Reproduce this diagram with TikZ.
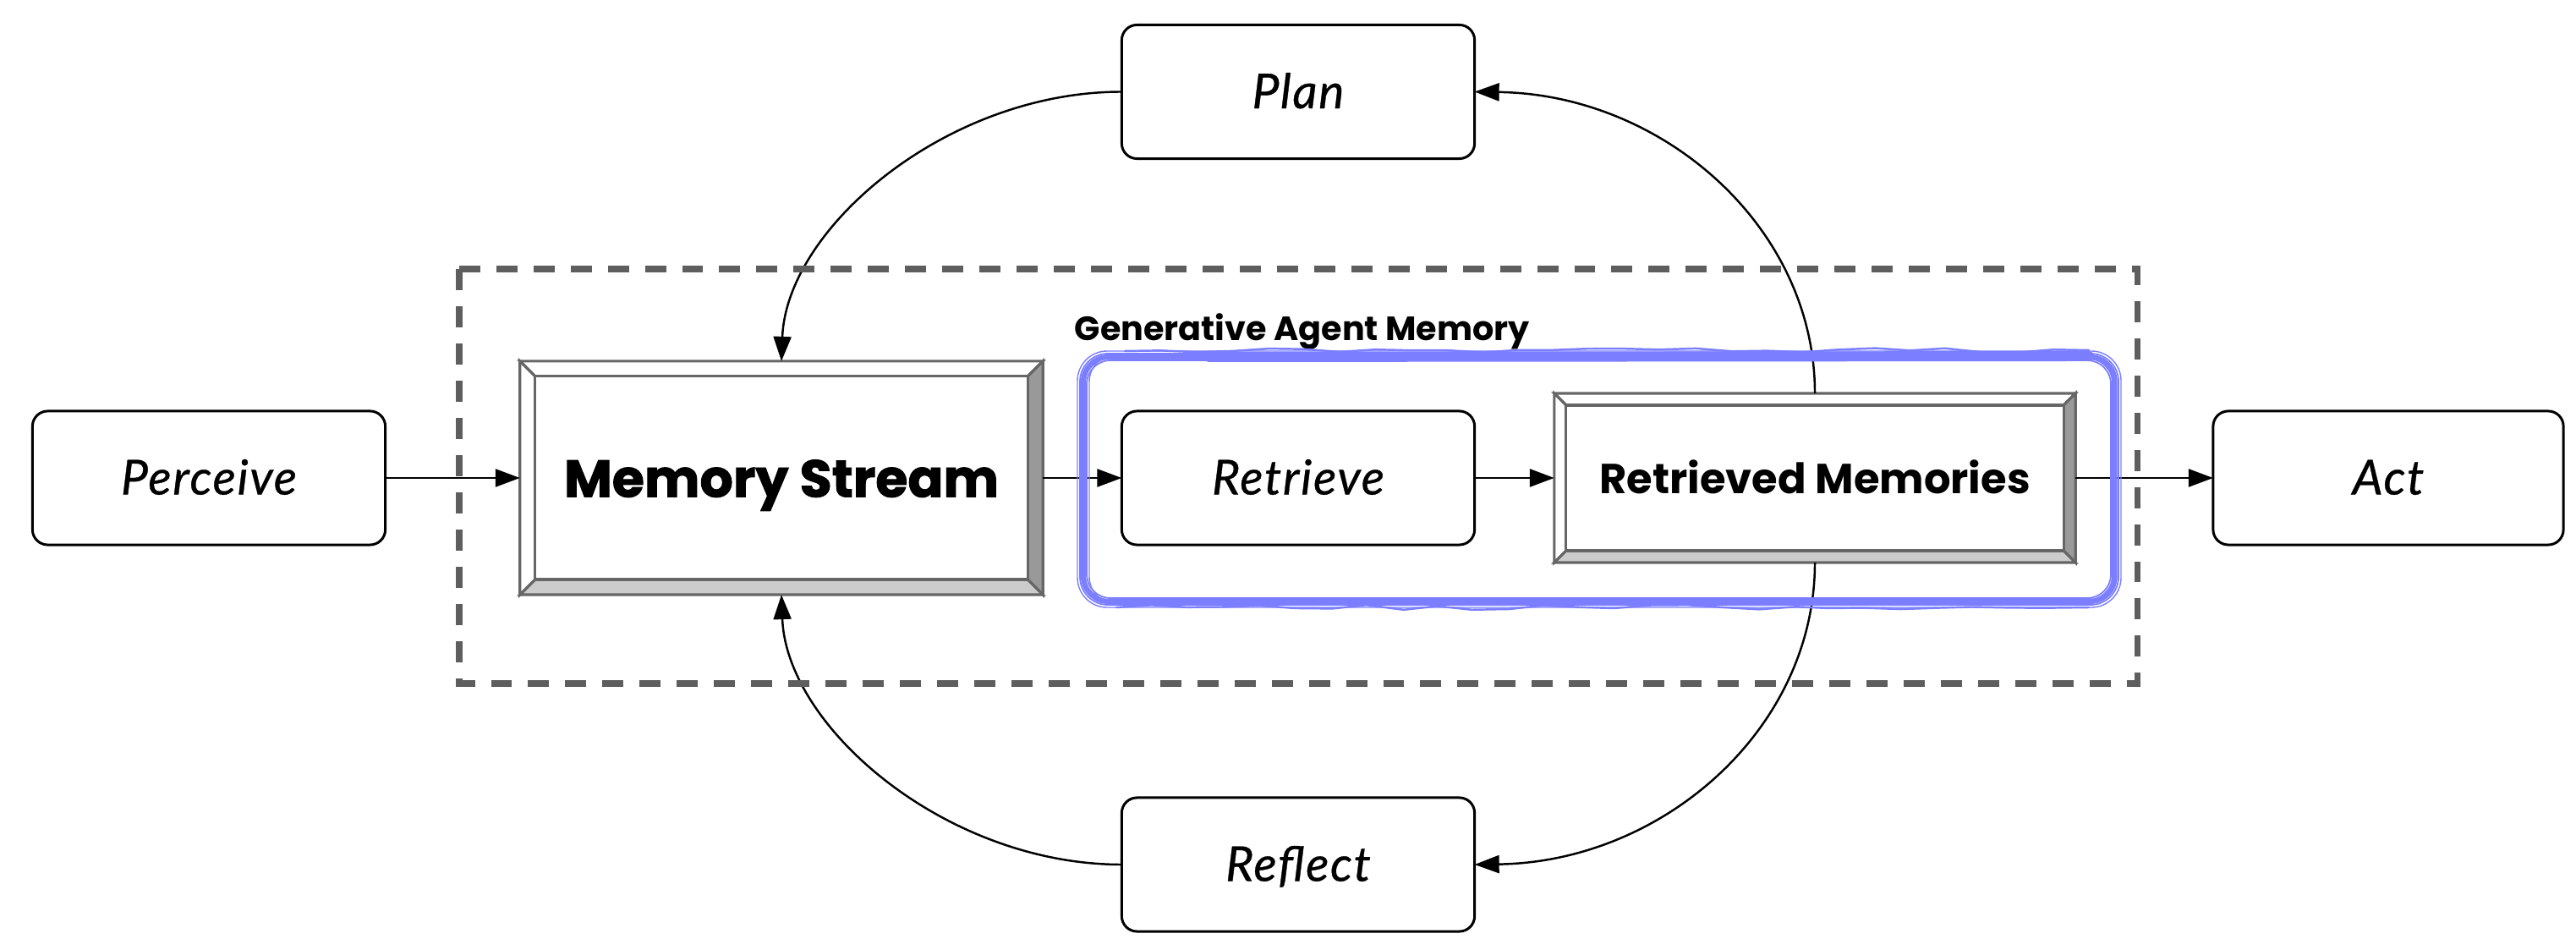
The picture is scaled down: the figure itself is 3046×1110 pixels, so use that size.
\documentclass[tikz,border=0pt]{standalone}
\usepackage{fontspec}
\setmainfont{Lato}[ItalicFeatures={FakeBold=0.6, LetterSpace=3}]
\newfontfamily\popfont{Poppins}
\newfontfamily\heavyfont{Poppins}[BoldFeatures={FakeBold=1.5}]
\usetikzlibrary{arrows.meta,calc,backgrounds,decorations.pathmorphing}
\definecolor{sketchblue}{HTML}{7B7FFF}
\definecolor{dashgray}{HTML}{5E5E5E}
\definecolor{bevelline}{HTML}{666666}
\definecolor{bevelright}{HTML}{999999}
\definecolor{bevelbottom}{HTML}{CCCCCC}
\newcommand\bevelbox[2]{%
  \begin{scope}[draw=bevelline, line width=0.9pt, line join=miter]
    \filldraw[fill=white] (#1.north west) -- (#1.north east) -- ($(#1.north east)+(-#2,#2)$) -- ($(#1.north west)+(#2,#2)$) -- cycle;
    \filldraw[fill=white] (#1.north west) -- ($(#1.north west)+(#2,#2)$) -- ($(#1.south west)+(#2,-#2)$) -- (#1.south west) -- cycle;
    \filldraw[fill=bevelright] (#1.north east) -- (#1.south east) -- ($(#1.south east)+(-#2,-#2)$) -- ($(#1.north east)+(-#2,#2)$) -- cycle;
    \filldraw[fill=bevelbottom] (#1.south west) -- (#1.south east) -- ($(#1.south east)+(-#2,-#2)$) -- ($(#1.south west)+(#2,-#2)$) -- cycle;
    \filldraw[fill=white] ($(#1.north west)+(#2,#2)$) rectangle ($(#1.south east)+(-#2,-#2)$);
  \end{scope}}
\begin{document}
\begin{tikzpicture}[x=0.01cm,y=-0.01cm,
  rbox/.style={draw=black, fill=white, line width=0.85pt, rounded corners=0.18cm,
    minimum width=4.17cm, minimum height=1.58cm, inner sep=0pt, outer sep=0pt,
    font=\itshape\fontsize{16.2}{19}\selectfont, text height=0.39cm, text depth=0pt},
  bevelnode/.style={inner sep=0pt, outer sep=0pt, text depth=0pt},
  conn/.style={line width=0.7pt, -{Triangle[length=0.29cm,width=0.21cm]}},
  dashframe/.style={draw=dashgray, line width=2pt, dash pattern=on 7.1pt off 5.4pt},
  sketch/.style={draw=sketchblue, line cap=round, line join=round}
]
\useasboundingbox (0,0) rectangle (3046,1110);
\pgfmathsetseed{7}

% plain rounded boxes
\node[rbox] (perceive) at (247,565) {Perceive};
\node[rbox] (plan) at (1535,108.5) {Plan};
\node[rbox] (retrieve) at (1535,565) {Retrieve};
\node[rbox] (reflect) at (1535,1022) {Reflect};
\node[rbox, minimum width=4.14cm] (act) at (2824,565) {Act};

% bevelled boxes
\node[bevelnode, minimum width=6.18cm, minimum height=2.76cm, text height=0.45cm,
  font=\heavyfont\bfseries\fontsize{17.6}{21}\selectfont] (ms) at (924,565) {Memory Stream};
\node[bevelnode, minimum width=6.16cm, minimum height=2.0cm, text height=0.36cm,
  font=\popfont\bfseries\fontsize{14.1}{17}\selectfont] (rm) at (2146,565) {Retrieved Memories};

% group label
\node[anchor=base west, inner sep=0pt, font=\popfont\bfseries\fontsize{11.3}{13}\selectfont] (gam) at (1270,403) {Generative Agent Memory};

\begin{scope}[on background layer]
  \bevelbox{ms}{18}
  \bevelbox{rm}{14}
\end{scope}

% connectors
\draw[conn] (perceive.east) -- (ms.west);
\draw[conn] (ms.east) -- (retrieve.west);
\draw[conn] (retrieve.east) -- (rm.west);
\draw[conn] (rm.east) -- (act.west);
\draw[conn] (plan.west) .. controls +(-207,0) and +(6,-157) .. (ms.north);
\draw[conn] (rm.north) .. controls +(0,-197) and +(222,3) .. (plan.east);
\draw[conn] (rm.south) .. controls +(0,197) and +(222,-3) .. (reflect.east);
\draw[conn] (reflect.west) .. controls +(-207,0) and +(6,157) .. (ms.south);

% dashed frame
\draw[dashframe] (543,318) rectangle (2527,808);

% sketchy blue frame
\draw[sketch, line width=1.8pt, rounded corners=0.3cm] (1281,422) rectangle (2500,711);
\draw[sketch, line width=0.5pt, rounded corners=0.33cm] (1277,418) rectangle (2505,715);
\draw[sketch, line width=0.5pt, rounded corners=0.28cm] (1285,426) rectangle (2496,707);
\draw[sketch, line width=0.4pt, rounded corners=0.35cm] (1274,415) rectangle (2508,718);
\draw[sketch, line width=0.4pt, rounded corners=0.31cm] (1288,420) rectangle (2503,713);
\draw[sketch, line width=3.4pt] (1430,422) -- (2470,421);
\draw[sketch, line width=3pt] (1330,711) -- (2470,711);
\draw[sketch, line width=0.7pt, decorate, decoration={random steps, segment length=12pt, amplitude=0.8pt}] (1330,415) -- (2470,414);
\draw[sketch, line width=0.7pt, decorate, decoration={random steps, segment length=12pt, amplitude=0.8pt}] (1320,718) -- (2470,718);
\end{tikzpicture}
\end{document}
